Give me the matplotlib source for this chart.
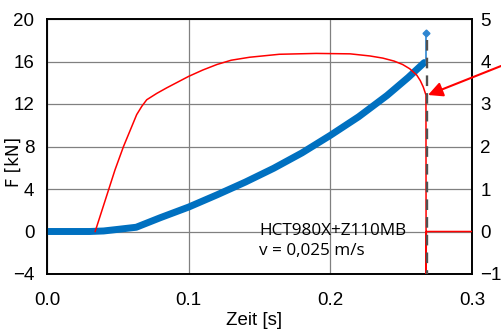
import matplotlib
matplotlib.use("Agg")
import matplotlib.pyplot as plt
from matplotlib.patches import FancyArrowPatch

# force curve (left axis, kN)
time_force = [0, 0.03, 0.04, 0.05, 0.063, 0.08, 0.1, 0.12, 0.14, 0.16,
              0.18, 0.2, 0.22, 0.24, 0.255, 0.2663]
force = [0, 0, 0.05, 0.2, 0.4, 1.3, 2.3, 3.45, 4.65, 5.95,
         7.4, 9.05, 10.8, 12.8, 14.5, 15.9]

# peak spike at break
time_spike = [0.2672, 0.2672]
force_spike = [15.9, 18.65]

# red curve (right axis)
time_red = [0.034, 0.048, 0.054, 0.0633, 0.067, 0.0704, 0.0775, 0.0845, 0.1, 0.11,
            0.12, 0.13, 0.143, 0.164, 0.19, 0.214, 0.228, 0.237, 0.245, 0.251,
            0.256, 0.261, 0.2635, 0.2656, 0.2668, 0.2675, 0.2676, 0.2678, 0.3]
value_red = [0.0, 1.45, 2.0, 2.75, 2.95, 3.1, 3.25, 3.38, 3.65, 3.8,
             3.93, 4.03, 4.1, 4.17, 4.19, 4.18, 4.13, 4.08, 4.01, 3.93,
             3.83, 3.68, 3.55, 3.4, 3.28, 3.21, -1.0, 0, 0]

break_time = 0.268
left_ticks = [-4, 0, 4, 8, 12, 16, 20]
right_ticks = [-1, 0, 1, 2, 3, 4, 5]
x_ticks = [0.0, 0.1, 0.2, 0.3]
x_ticklabels = ["0.0", "0.1", "0.2", "0.3"]

tick_font = "Liberation Sans"

fig = plt.figure(figsize=(5.01, 3.33), dpi=100)
ax = fig.add_axes([47 / 501, 59 / 333, 425 / 501, 255 / 333])
ax2 = ax.twinx()

ax.set_xlim(0, 0.3)
ax.set_ylim(-4, 20)
ax2.set_ylim(-1, 5)
ax.set_xticks(x_ticks)
ax.set_xticklabels(x_ticklabels)
ax.set_yticks(left_ticks)
ax2.set_yticks(right_ticks)

ax.grid(True, color="#808080", linewidth=0.9)
ax.set_axisbelow(True)
for a in (ax, ax2):
    for s in a.spines.values():
        s.set_color("black")
        s.set_linewidth(1.2)

ax.tick_params(axis="y", length=0, pad=9, labelsize=13.5)
ax.tick_params(axis="x", length=0, pad=13, labelsize=13.5)
ax2.tick_params(axis="y", length=0, pad=6, labelsize=13.5)
for lab in ax.get_xticklabels() + ax.get_yticklabels() + ax2.get_yticklabels():
    lab.set_family(tick_font)

# data
ax.plot(time_force, force, color="#0070C0", linewidth=5, solid_capstyle="round", zorder=3)
ax.plot(time_spike, force_spike, color="#2E86D1", linewidth=1.2, zorder=3)
ax.plot(time_spike[-1], force_spike[-1], marker="D", markersize=3.5, color="#2E86D1", zorder=3)

ax2.plot(time_red, value_red, color="#FF0000", linewidth=1.1, zorder=3)
ax2.plot([break_time, break_time], [4.5, -1], color="#505050", linewidth=1.7,
         linestyle=(0, (4.5, 3)), zorder=4)

ax.set_xlabel("Zeit [s]", fontsize=13.5, family=tick_font)
ax.xaxis.set_label_coords((254 - 47) / 425, -(320 - 274) / 255 + 0.03)
ax.set_ylabel("F [kN]", fontsize=12, family="DejaVu Sans")
ax.yaxis.set_label_coords(-(47 - 23) / 425, (274 - 162) / 255)

ax.text(0.1496, -0.33, "HCT980X+Z110MB", fontsize=12.3, family="Open Sans",
        va="baseline", ha="left", zorder=5)
ax.text(0.1496, -2.21, "v = 0,025 m/s", fontsize=12.3, family="Open Sans",
        va="baseline", ha="left", zorder=5)

fig.add_artist(FancyArrowPatch(
    (501, 333 - 66), (428, 333 - 95), transform=None,
    arrowstyle="-|>", mutation_scale=22, color="#FF0000", linewidth=1.5,
    shrinkA=0, shrinkB=0))

fig.savefig("out.png", dpi=100)
